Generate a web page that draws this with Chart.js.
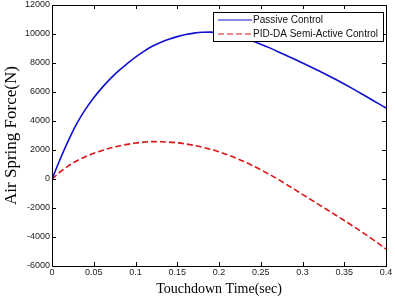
<!DOCTYPE html>
<html>
<head>
<meta charset="utf-8">
<script src="https://cdn.jsdelivr.net/npm/chart.js@4/dist/chart.umd.min.js"></script>
<style>
  body { margin: 0; background: #fff; }
  canvas { display: block; }
</style>
</head>
<body>
<canvas id="grafico" width="395" height="298"></canvas>
<script>
// dados
const tempos = [0, 0.01, 0.02, 0.03, 0.04, 0.05, 0.06, 0.07, 0.08, 0.09, 0.1,
  0.11, 0.12, 0.13, 0.14, 0.15, 0.16, 0.17, 0.18, 0.19, 0.2,
  0.21, 0.22, 0.23, 0.24, 0.25, 0.26, 0.27, 0.28, 0.29, 0.3,
  0.31, 0.32, 0.33, 0.34, 0.35, 0.36, 0.37, 0.38, 0.39, 0.4];
const passivo = [0, 1400, 2700, 3850, 4800, 5600, 6300, 6920, 7470, 7950, 8400,
  8800, 9150, 9420, 9640, 9820, 9960, 10060, 10120, 10130, 10090,
  10000, 9880, 9720, 9520, 9300, 9060, 8800, 8540, 8270, 8000,
  7730, 7450, 7160, 6860, 6550, 6230, 5900, 5570, 5230, 4900];
const semiAtivo = [0, 500, 920, 1260, 1540, 1770, 1970, 2140, 2280, 2390, 2480,
  2540, 2575, 2570, 2545, 2495, 2420, 2320, 2195, 2045, 1870,
  1670, 1445, 1200, 930, 640, 330, 0, -345, -700, -1060,
  -1420, -1780, -2140, -2500, -2860, -3230, -3610, -4000, -4410, -4830];
const nomes = ['Passive Control', 'PID-DA Semi-Active Control'];

const xTicks = { min: 0, max: 0.4, step: 0.05 };
const yTicks = { min: -6000, max: 12000, step: 2000 };

const pontos = (vals) => vals.map((v, i) => ({ x: tempos[i], y: v }));

// moldura com ticks para dentro (estilo MATLAB) + legenda
const molduraPlugin = {
  id: 'moldura',
  afterDraw(chart) {
    const { ctx, chartArea: a, scales } = chart;
    ctx.save();
    ctx.strokeStyle = '#000';
    ctx.lineWidth = 1;
    ctx.strokeRect(a.left + 0.5, a.top + 0.5, a.right - a.left, a.bottom - a.top);
    ctx.beginPath();
    scales.x.ticks.forEach(t => {
      const px = Math.round(scales.x.getPixelForValue(t.value)) + 0.5;
      ctx.moveTo(px, a.bottom); ctx.lineTo(px, a.bottom - 4);
      ctx.moveTo(px, a.top); ctx.lineTo(px, a.top + 4);
    });
    scales.y.ticks.forEach(t => {
      const py = Math.round(scales.y.getPixelForValue(t.value)) + 0.5;
      ctx.moveTo(a.left, py); ctx.lineTo(a.left + 4, py);
      ctx.moveTo(a.right, py); ctx.lineTo(a.right - 4, py);
    });
    ctx.stroke();

    // legenda
    const lx = 213, ly = 12, lw = 170, lh = 29;
    ctx.fillStyle = '#fff';
    ctx.fillRect(lx, ly, lw, lh);
    ctx.strokeRect(lx + 0.5, ly + 0.5, lw, lh);
    ctx.font = '10px "Liberation Sans", Arial, sans-serif';
    ctx.textBaseline = 'middle';
    chart.data.datasets.forEach((ds, i) => {
      const y = ly + 8 + i * 14;
      ctx.beginPath();
      ctx.strokeStyle = ds.borderColor;
      ctx.lineWidth = 1.2;
      ctx.setLineDash(ds.borderDash || []);
      ctx.moveTo(lx + 5, y); ctx.lineTo(lx + 39, y);
      ctx.stroke();
      ctx.setLineDash([]);
      ctx.fillStyle = '#111';
      ctx.fillText(ds.label, lx + 40, y);
    });
    ctx.restore();
  }
};

new Chart(document.getElementById('grafico'), {
  type: 'line',
  data: {
    datasets: [{
      label: nomes[0],
      data: pontos(passivo),
      borderColor: '#1010d0',
      borderWidth: 1.6,
      pointRadius: 0,
      cubicInterpolationMode: 'monotone',
      fill: false
    }, {
      label: nomes[1],
      data: pontos(semiAtivo),
      borderColor: '#dd1515',
      borderWidth: 1.6,
      borderDash: [6, 3],
      pointRadius: 0,
      cubicInterpolationMode: 'monotone',
      fill: false
    }]
  },
  options: {
    responsive: false,
    animation: false,
    layout: { padding: { top: 5, right: 9, left: 0, bottom: 0 } },
    plugins: {
      legend: { display: false },
      tooltip: { enabled: false }
    },
    scales: {
      x: {
        type: 'linear',
        min: xTicks.min,
        max: xTicks.max,
        grid: { display: false, drawTicks: false },
        border: { display: false },
        ticks: {
          stepSize: xTicks.step,
          padding: 1,
          color: '#222',
          maxRotation: 0,
          font: { family: '"Liberation Sans", Arial, sans-serif', size: 9 },
          callback: v => String(Math.round(v * 100) / 100)
        },
        title: {
          display: true,
          text: 'Touchdown Time(sec)',
          color: '#000',
          padding: { top: 0, bottom: 0 },
          font: { family: '"Liberation Serif", "Times New Roman", serif', size: 14 }
        },
        afterFit(scale) {
          scale.height = 32;
          scale.paddingLeft = 0;
          scale.paddingRight = 0;
        }
      },
      y: {
        min: yTicks.min,
        max: yTicks.max,
        grid: { display: false, drawTicks: false },
        border: { display: false },
        ticks: {
          stepSize: yTicks.step,
          padding: 2,
          color: '#222',
          font: { family: '"Liberation Sans", Arial, sans-serif', size: 9 },
          callback: v => String(v)
        },
        title: {
          display: true,
          text: 'Air Spring Force(N)',
          color: '#000',
          padding: { top: 1, bottom: 0 },
          font: { family: '"Liberation Serif", "Times New Roman", serif', size: 17 }
        },
        afterFit(scale) {
          scale.width = 52;
          scale.paddingTop = 0;
          scale.paddingBottom = 0;
        }
      }
    }
  },
  plugins: [molduraPlugin]
});
</script>
</body>
</html>
